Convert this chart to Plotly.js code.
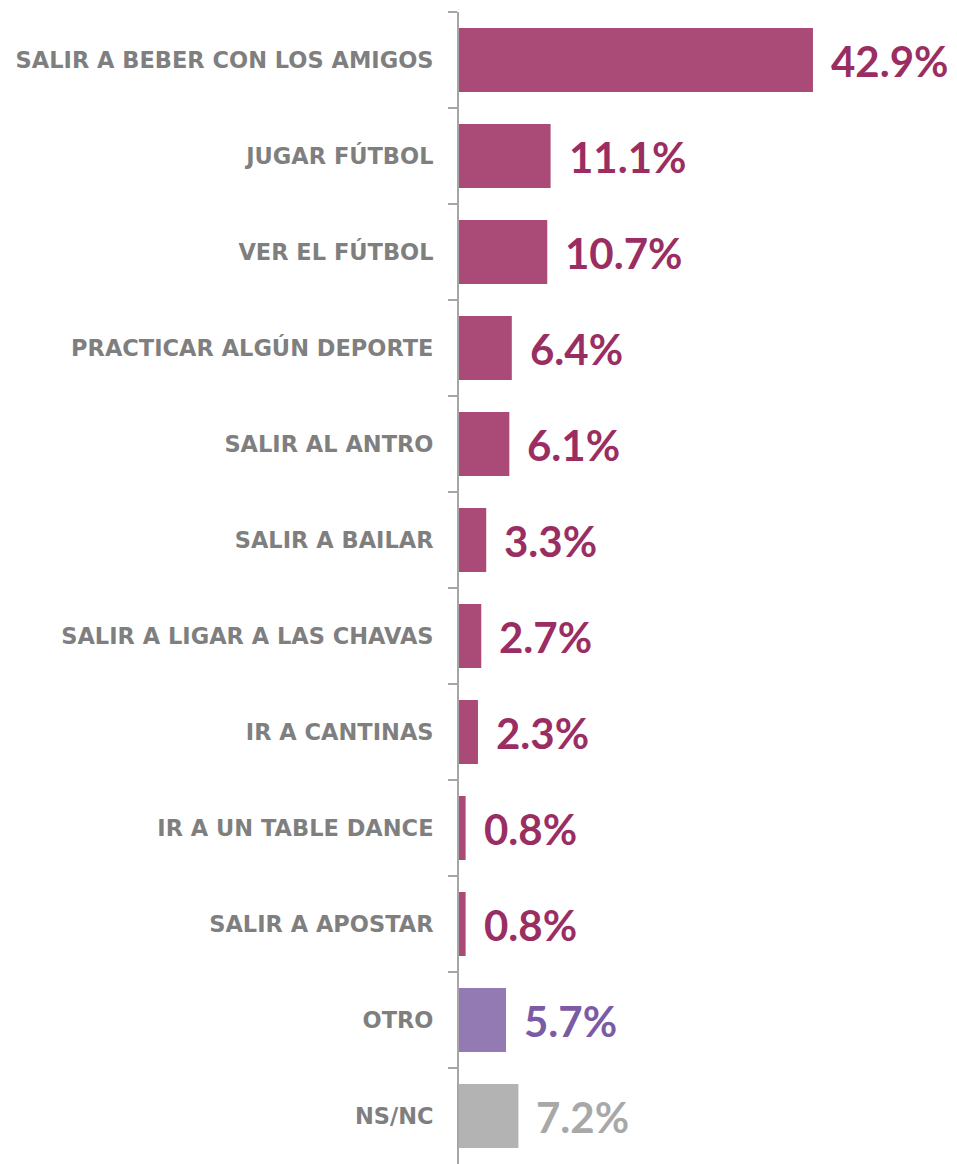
<!DOCTYPE html>
<html>
<head>
<meta charset="utf-8">
<script src="https://cdn.plot.ly/plotly-3.0.1.min.js"></script>
<style>html,body{margin:0;padding:0;background:#fff;}#chart{width:957px;height:1164px;}</style>
</head>
<body>
<div id="chart"></div>
<script>
const categories = [
  "SALIR A BEBER CON LOS AMIGOS",
  "JUGAR FÚTBOL",
  "VER EL FÚTBOL",
  "PRACTICAR ALGÚN DEPORTE",
  "SALIR AL ANTRO",
  "SALIR A BAILAR",
  "SALIR A LIGAR A LAS CHAVAS",
  "IR A CANTINAS",
  "IR A UN TABLE DANCE",
  "SALIR A APOSTAR",
  "OTRO",
  "NS/NC"
];
const values = [42.9, 11.1, 10.7, 6.4, 6.1, 3.3, 2.7, 2.3, 0.8, 0.8, 5.7, 7.2];
const valueLabels = ["42.9%", "11.1%", "10.7%", "6.4%", "6.1%", "3.3%", "2.7%", "2.3%", "0.8%", "0.8%", "5.7%", "7.2%"];
const groups = ["main","main","main","main","main","main","main","main","main","main","other","nsnc"];

const barColor = {main: "#a94a77", other: "#937ab2", nsnc: "#b3b3b3"};
const textColor = {main: "#9a2e63", other: "#7b5ba6", nsnc: "#a8a8a8"};

const trace = {
  type: "bar",
  orientation: "h",
  y: categories,
  x: values,
  marker: {color: groups.map(g => barColor[g])},
  hoverinfo: "none",
  cliponaxis: false
};

const annotations = values.map((v, i) => ({
  x: v, y: categories[i], xref: "x", yref: "y",
  text: valueLabels[i], showarrow: false,
  xanchor: "left", yanchor: "middle", xshift: 16, yshift: -1,
  font: {family: "Lato, 'DejaVu Sans', sans-serif", size: 42, color: textColor[groups[i]], weight: 700}
}));

const layout = {
  width: 957, height: 1164,
  margin: {l: 459, r: 0, t: 12, b: 0},
  paper_bgcolor: "#ffffff", plot_bgcolor: "rgba(0,0,0,0)",
  showlegend: false,
  bargap: 0.333,
  xaxis: {range: [0, 60.36], visible: false, fixedrange: true},
  yaxis: {
    type: "category", autorange: "reversed",
    showline: true, linecolor: "#a6a6a6", linewidth: 2,
    ticks: "outside", tickson: "boundaries", ticklen: 9, tickwidth: 2, tickcolor: "#a6a6a6",
    showgrid: false, zeroline: false,
    ticklabelstandoff: 19,
    tickfont: {family: "'DejaVu Sans', sans-serif", size: 22.5, color: "#7f7f7f", weight: 700}
  },
  annotations: annotations
};

Plotly.newPlot("chart", [trace], layout, {displayModeBar: false, staticPlot: true});
</script>
</body>
</html>
